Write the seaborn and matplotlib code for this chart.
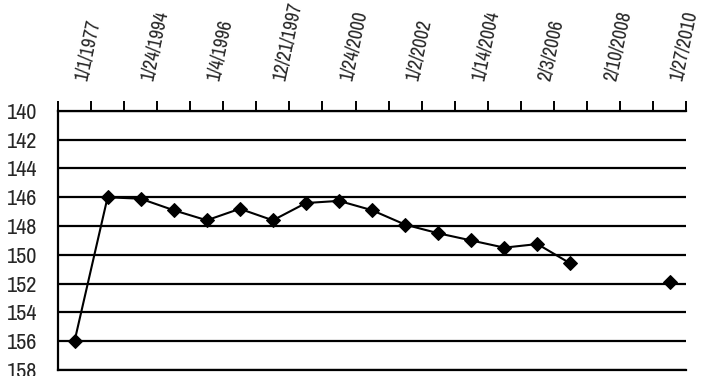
import numpy as np
import pandas as pd
import matplotlib
matplotlib.use("Agg")
import matplotlib.pyplot as plt
import matplotlib.transforms as mtransforms
import seaborn as sns
from matplotlib import font_manager

# ---- data ----
tick_labels = ["1/1/1977", "1/24/1994", "1/4/1996", "12/21/1997", "1/24/2000",
               "1/2/2002", "1/14/2004", "2/3/2006", "2/10/2008", "1/27/2010"]
values = [156.0, 146.0, 146.1, 146.9, 147.6, 146.8, 147.6, 146.4, 146.25,
          146.9, 147.9, 148.5, 149.0, 149.5, 149.25, 150.6, np.nan, np.nan, 151.9]
y_ticks = list(range(140, 159, 2))

sns.set_style("white")


def pick_font():
    fl = font_manager.fontManager.ttflist
    for want in ["Liberation Sans Narrow", "Archivo Narrow"]:
        c = [f for f in fl if f.name == want and f.style == "normal"
             and f.weight in (400, "normal", "regular")]
        if c:
            return c[0].fname
    c = [f for f in fl if "Narrow" in f.name and f.style == "normal"]
    return c[0].fname if c else None


fname = pick_font()
if fname:
    fp_y = font_manager.FontProperties(fname=fname, size=16)
    fp_x = font_manager.FontProperties(fname=fname, size=14)
else:
    fp_y = font_manager.FontProperties(family="Liberation Sans", size=13)
    fp_x = font_manager.FontProperties(family="Liberation Sans", size=11.5)
plt.rcParams["font.family"] = ["Liberation Sans", "DejaVu Sans"]

n = len(values)
idx = np.arange(n)
seg = np.cumsum(np.isnan(values))
df = pd.DataFrame({"idx": idx, "val": values, "seg": seg}).dropna()

fig = plt.figure(figsize=(7.03, 3.76), dpi=100)
ax = fig.add_axes([0.0825, 0.016, 0.8935, 0.689])

for yv in y_ticks:
    ax.axhline(yv, color="black", lw=1.6, zorder=1)

sns.lineplot(data=df, x="idx", y="val", units="seg", estimator=None,
             color="black", lw=1.5, marker="D", markersize=7.5,
             markeredgecolor="black", ax=ax, zorder=3)

ax.set_xlim(-0.5, n - 0.5)
ax.set_ylim(158, 140)
ax.set_yticks(y_ticks)
ax.set_yticklabels([str(v) for v in y_ticks], fontproperties=fp_y)
ax.set_xlabel("")
ax.set_ylabel("")

# category labels above the top axis (every other category)
ax.xaxis.tick_top()
label_pos = np.arange(0, n, 2)
ax.set_xticks(label_pos)
ax.set_xticklabels([""] * len(label_pos))
trans = ax.get_xaxis_transform() + mtransforms.ScaledTranslation(0.165, 0.28, fig.dpi_scale_trans)
for xp, lab in zip(label_pos, tick_labels):
    ax.text(xp, 1.0, lab, transform=trans, fontproperties=fp_x, rotation=78,
            ha="left", va="bottom", rotation_mode="anchor", clip_on=False)

ax.set_xticks(np.arange(-0.5, n, 1), minor=True)
ax.tick_params(axis="x", which="major", length=0, top=True, bottom=False)
ax.tick_params(axis="x", which="minor", length=7, width=1.4, direction="out",
               top=True, bottom=False, color="black")
ax.tick_params(axis="y", length=8, width=1.4, direction="out", pad=7, color="black")

ax.spines["right"].set_visible(False)
for s in ["left", "top", "bottom"]:
    ax.spines[s].set_color("black")
    ax.spines[s].set_linewidth(1.6)

fig.savefig("out.png", dpi=100)
